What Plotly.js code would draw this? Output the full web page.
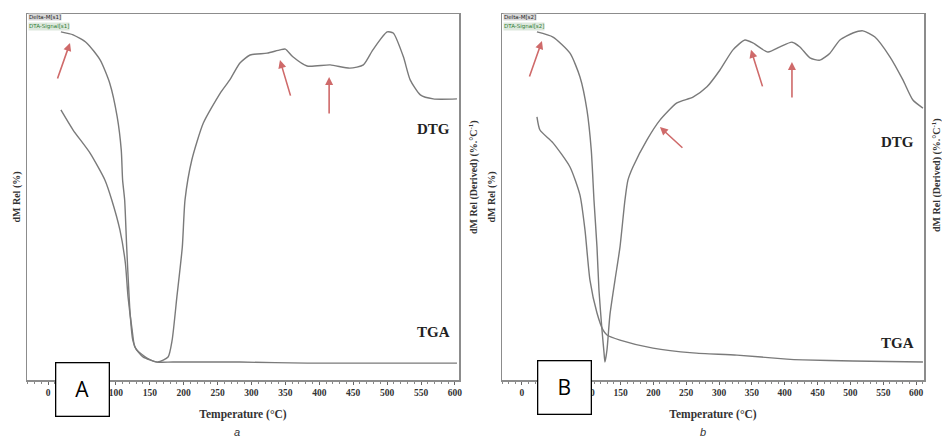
<!DOCTYPE html>
<html>
<head>
<meta charset="utf-8">
<script src="https://cdn.plot.ly/plotly-3.0.1.min.js"></script>
<style>html,body{margin:0;padding:0;background:#fff;}#chart{width:942px;height:441px;}</style>
</head>
<body>
<div id="chart"></div>
<script>
// Panel A (sample a)
const tempA_DTG = [19, 37, 57, 77, 91, 102, 108, 110, 113, 116, 121, 125, 131, 146, 162, 177, 183, 190, 198, 202, 212, 229, 254, 268, 283, 298, 323, 342, 350, 361, 382, 416, 445, 465, 479, 500, 509, 524, 534, 549, 568, 603];
const dtgA = [95.1, 94.3, 92.1, 87.4, 81.1, 71.9, 62.8, 54.6, 49.2, 36.3, 18.3, 10.9, 8.2, 6.0, 4.9, 6.3, 10.9, 22.7, 36.3, 49.2, 60.1, 70.2, 78.4, 82.0, 86.6, 88.8, 89.3, 90.2, 90.4, 88.3, 85.8, 86.1, 85.2, 86.1, 90.2, 95.1, 94.8, 88.3, 82.0, 77.9, 76.8, 76.8];
const tempA_TGA = [19, 37, 62, 84, 94, 106, 114, 118, 124, 128, 140, 161, 184, 283, 382, 603];
const tgaA = [73.8, 68.3, 62.0, 54.6, 49.2, 41.0, 32.0, 22.7, 13.7, 9.0, 6.3, 4.9, 4.9, 4.9, 4.6, 4.6];

// Panel B (sample b)
const tempB_DTG = [22.8, 47.2, 73.1, 88.3, 98.9, 105.5, 109.6, 114.2, 117.2, 121.8, 124.8, 126.3, 129.4, 133.9, 141.6, 149.2, 156.8, 161.3, 168.9, 190.3, 210, 235.9, 260.3, 281.6, 301.4, 321.2, 339.4, 351.6, 374.4, 392.7, 411, 423.1, 438.4, 453.6, 468.8, 484, 503.8, 519, 537.3, 560.1, 579.9, 595.1, 610.4];
const dtgB = [95.1, 93.7, 89.3, 82.8, 73.8, 62.8, 49.2, 36.3, 24.6, 13.7, 7.7, 4.9, 8.2, 17.8, 27.3, 36.3, 49.2, 54.6, 58.2, 65.6, 71.0, 75.7, 77.3, 80.1, 84.7, 90.2, 92.9, 92.1, 89.6, 91.0, 92.3, 91.0, 88.0, 87.4, 89.3, 92.9, 94.8, 95.4, 93.7, 88.3, 82.0, 76.5, 74.3];
const tempB_TGA = [22.8, 27.4, 47.2, 73.1, 88.3, 95.9, 103.5, 114.2, 123.3, 129.4, 149.2, 199.4, 260.3, 327.2, 403.3, 427.7, 503.8, 610.4];
const tgaB = [71.9, 68.3, 64.8, 58.2, 50.5, 41.0, 27.3, 18.3, 13.7, 12.3, 10.9, 8.7, 7.4, 6.8, 5.7, 5.5, 5.2, 4.9];

const tickVals = [0, 50, 100, 150, 200, 250, 300, 350, 400, 450, 500, 550, 600];
const tickText = tickVals.map(String);

const lineStyle = {color: '#7a7a7a', width: 1.4, shape: 'spline', smoothing: 0.6};
const traces = [
  {x: tempA_TGA, y: tgaA, xaxis: 'x', yaxis: 'y', mode: 'lines', name: 'TGA a', line: lineStyle},
  {x: tempA_DTG, y: dtgA, xaxis: 'x', yaxis: 'y2', mode: 'lines', name: 'DTG a', line: lineStyle},
  {x: tempB_TGA, y: tgaB, xaxis: 'x2', yaxis: 'y3', mode: 'lines', name: 'TGA b', line: lineStyle},
  {x: tempB_DTG, y: dtgB, xaxis: 'x2', yaxis: 'y4', mode: 'lines', name: 'DTG b', line: lineStyle}
];

const serif = 'Liberation Serif, Times New Roman, serif';
const frame = '#8c8c8c';
const yDom = [61/441, 427/441];

function xAxis(dom, range, anchor) {
  return {
    domain: dom, range: range, anchor: anchor,
    showline: true, linecolor: frame, linewidth: 1.5, mirror: true,
    showgrid: false, zeroline: false,
    tickmode: 'array', tickvals: tickVals, ticktext: tickText,
    ticks: 'outside', ticklen: 3, tickcolor: '#666', tickwidth: 1,
    minor: {dtick: 10, ticks: 'outside', ticklen: 2, tickcolor: '#888'},
    tickfont: {family: serif, size: 9.5, color: '#333', weight: 'bold'},
    title: {text: 'Temperature (°C)', font: {family: serif, size: 11.5, color: '#333', weight: 'bold'}, standoff: 13}
  };
}
function yAxis(anchor, title, extra) {
  return Object.assign({
    domain: yDom, range: [0, 100], anchor: anchor,
    showline: true, linecolor: frame, linewidth: 1.5, mirror: true,
    showgrid: false, zeroline: false, showticklabels: false, ticks: '',
    title: {text: title, font: {family: serif, size: 10, color: '#333', weight: 'bold'}, standoff: 3}
  }, extra || {});
}
function yOver(over, anchor) {
  return {domain: yDom, range: [0, 100], overlaying: over, side: 'right', anchor: anchor,
    showline: false, showgrid: false, zeroline: false, showticklabels: false, ticks: ''};
}

const red = '#cf6a6a';
function arrow(xr, yr, x, y, ax, ay) {
  return {xref: xr, yref: yr, x: x, y: y, ax: ax, ay: ay, text: '', showarrow: true,
    arrowhead: 2, arrowsize: 1, arrowwidth: 1.6, arrowcolor: red};
}
function txt(x, y, text, font, opts) {
  return Object.assign({xref: 'paper', yref: 'paper', x: x/942, y: 1 - y/441, text: text,
    showarrow: false, font: font, xanchor: 'center', yanchor: 'middle'}, opts || {});
}
const bigSerif = {family: serif, size: 15, color: '#222', weight: 'bold'};
const rightTitle = {family: serif, size: 10, color: '#333', weight: 'bold'};
const tiny = {family: 'DejaVu Sans, sans-serif', size: 5.5, color: '#222'};
const tinyG = {family: 'DejaVu Sans, sans-serif', size: 5.5, color: '#2e7d32'};

const annotations = [
  arrow('x', 'y2', 32.4, 92.1, -13, 37),
  arrow('x', 'y2', 342, 87.4, 11, 37),
  arrow('x', 'y2', 414.5, 82.8, 0, 38),
  arrow('x2', 'y4', 30.4, 92.6, -13, 37),
  arrow('x2', 'y4', 348.6, 90.2, 12, 38),
  arrow('x2', 'y4', 411, 86.9, 0, 37),
  arrow('x2', 'y4', 210, 69.1, 24, 22),
  txt(433, 129, 'DTG', bigSerif),
  txt(433, 332, 'TGA', bigSerif),
  txt(897, 142, 'DTG', bigSerif),
  txt(897, 343, 'TGA', bigSerif),
  txt(473, 177, 'dM Rel (Derived) (%.°C<sup>-1</sup>)', rightTitle, {textangle: -90}),
  txt(937, 175, 'dM Rel (Derived) (%.°C<sup>-1</sup>)', rightTitle, {textangle: -90}),
  txt(28, 17, 'Delta-M[s1]', tiny, {xanchor: 'left', bgcolor: '#d8d8d8', borderpad: 0}),
  txt(28, 26, 'DTA-Signal[s1]', tinyG, {xanchor: 'left', bgcolor: '#dde8dd', borderpad: 0}),
  txt(503, 17, 'Delta-M[s2]', tiny, {xanchor: 'left', bgcolor: '#d8d8d8', borderpad: 0}),
  txt(503, 26, 'DTA-Signal[s2]', tinyG, {xanchor: 'left', bgcolor: '#dde8dd', borderpad: 0}),
  txt(82, 389, 'A', {family: 'Open Sans, Noto Sans, sans-serif', size: 21, color: '#000'},
      {width: 52, height: 52, bgcolor: '#fff', bordercolor: '#000', borderwidth: 1.3, borderpad: 0}),
  txt(564, 387, 'B', {family: 'Open Sans, Noto Sans, sans-serif', size: 21, color: '#000'},
      {width: 52, height: 52, bgcolor: '#fff', bordercolor: '#000', borderwidth: 1.3, borderpad: 0}),
  txt(237, 432, '<i>a</i>', {family: 'Liberation Sans, Arial, sans-serif', size: 11, color: '#333'}),
  txt(703, 432, '<i>b</i>', {family: 'Liberation Sans, Arial, sans-serif', size: 11, color: '#333'})
];

const layout = {
  width: 942, height: 441,
  margin: {l: 0, r: 0, t: 0, b: 0},
  paper_bgcolor: '#fff', plot_bgcolor: '#fff',
  showlegend: false,
  xaxis: xAxis([27/942, 459/942], [-31, 606], 'y'),
  xaxis2: xAxis([502/942, 924/942], [-30.4, 612], 'y3'),
  yaxis: yAxis('x', 'dM Rel (%)'),
  yaxis2: yOver('y', 'x'),
  yaxis3: yAxis('x2', 'dM Rel (%)'),
  yaxis4: yOver('y3', 'x2'),
  annotations: annotations
};

Plotly.newPlot('chart', traces, layout, {displayModeBar: false, staticPlot: true});
</script>
</body>
</html>
